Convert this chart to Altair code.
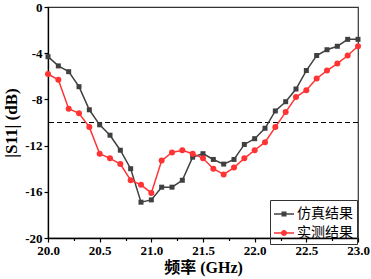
import altair as alt
import pandas as pd

# ---- data ----
freq = [20.0, 20.1, 20.2, 20.3, 20.4, 20.5, 20.6, 20.7, 20.8, 20.9,
        21.0, 21.1, 21.2, 21.3, 21.4, 21.5, 21.6, 21.7, 21.8, 21.9,
        22.0, 22.1, 22.2, 22.3, 22.4, 22.5, 22.6, 22.7, 22.8, 22.9, 23.0]
sim = [-4.3, -5.1, -5.6, -6.9, -8.9, -10.2, -11.1, -12.4, -14.0, -16.9,
       -16.7, -15.6, -15.6, -15.0, -13.0, -12.7, -13.2, -13.6, -13.2, -11.9,
       -11.4, -10.5, -9.0, -8.2, -7.1, -5.5, -4.2, -3.7, -3.4, -2.8, -2.8]
meas = [-5.8, -6.3, -8.8, -9.2, -10.4, -12.7, -13.1, -13.6, -15.0, -15.4,
        -16.1, -13.3, -12.6, -12.4, -12.7, -13.1, -14.0, -14.5, -13.9, -13.1,
        -12.4, -11.7, -10.4, -9.1, -7.8, -7.2, -6.2, -5.5, -4.9, -4.2, -3.4]
series_names = ["仿真结果", "实测结果"]
series_colors = ["#404040", "#ff3333"]
threshold = [-10]
x_ticks = [20.0, 20.25, 20.5, 20.75, 21.0, 21.25, 21.5, 21.75, 22.0, 22.25,
           22.5, 22.75, 23.0]
y_ticks = [-20, -18, -16, -14, -12, -10, -8, -6, -4, -2, 0]

# legend symbols: short line with marker
sq_path = ("M-1,-0.08L1,-0.08L1,0.08L-1,0.08Z "
           "M-0.25,-0.25L0.25,-0.25L0.25,0.25L-0.25,0.25Z")
circ_path = ("M-1,-0.08L1,-0.08L1,0.08L-1,0.08Z "
             "M0.3,0A0.3,0.3 0 1,1 -0.3,0A0.3,0.3 0 1,1 0.3,0Z")

df = pd.DataFrame({
    "freq": freq + freq,
    "s11": sim + meas,
    "series": [series_names[0]] * len(freq) + [series_names[1]] * len(freq),
})
thr_df = pd.DataFrame({"y": threshold})

is_sim = alt.datum.series == series_names[0]

x_enc = alt.X(
    "freq:Q",
    scale=alt.Scale(domain=[20, 23], nice=False, zero=False),
    axis=alt.Axis(
        values=x_ticks,
        labelExpr="datum.value % 0.5 === 0 ? format(datum.value, '.1f') : ''",
        tickSize={"condition": {"test": "datum.value % 0.5 === 0", "value": 4}, "value": 2.5},
        title="频率 (GHz)",
        titlePadding=2,
    ),
)
y_enc = alt.Y(
    "s11:Q",
    scale=alt.Scale(domain=[-20, 0], nice=False, zero=False),
    axis=alt.Axis(
        values=y_ticks,
        labelExpr="datum.value % 4 === 0 ? ('' + datum.value) : ''",
        tickSize={"condition": {"test": "datum.value % 4 === 0", "value": 4}, "value": 2.5},
        title="|S11| (dB)",
        titleFontSize=17,
        titlePadding=4,
    ),
)

rule = alt.Chart(thr_df).mark_rule(color="black", strokeWidth=1, strokeDash=[5, 3]).encode(
    y=alt.Y("y:Q", scale=alt.Scale(domain=[-20, 0], nice=False, zero=False))
)

lines = alt.Chart(df).mark_line(strokeWidth=1.5).encode(
    x=x_enc,
    y=y_enc,
    detail="series:N",
    color=alt.condition(is_sim, alt.value(series_colors[0]), alt.value(series_colors[1])),
)

points = alt.Chart(df).mark_point(filled=True, opacity=1).encode(
    x=x_enc,
    y=y_enc,
    shape=alt.condition(is_sim, alt.value("square"), alt.value("circle")),
    size=alt.condition(is_sim, alt.value(25), alt.value(36)),
    color=alt.condition(is_sim, alt.value(series_colors[0]), alt.value(series_colors[1])),
)

legend_layer = alt.Chart(df).transform_filter("false").mark_point(filled=True, opacity=1).encode(
    x=x_enc,
    y=y_enc,
    color=alt.Color("series:N", scale=alt.Scale(domain=series_names, range=series_colors), title=None),
    shape=alt.Shape("series:N", scale=alt.Scale(domain=series_names, range=[sq_path, circ_path]), title=None),
)

chart = (
    alt.layer(rule, lines, points, legend_layer)
    .properties(
        width=310,
        height=231,
        padding={"left": 48, "top": 7, "right": 13, "bottom": 41},
        autosize=alt.AutoSizeParams(type="none"),
    )
    .configure_view(stroke="#333333", strokeWidth=1.2)
    .configure_axis(
        grid=False,
        labelFont="Liberation Serif",
        labelFontSize=13,
        labelFontWeight="bold",
        labelColor="black",
        labelPadding=2,
        labelFlush=False,
        titleFont="Liberation Serif, Noto Sans CJK SC",
        titleFontSize=16,
        titleFontWeight="bold",
        titleColor="black",
        domainColor="black",
        domainWidth=1.3,
        tickColor="black",
        tickWidth=1.2,
    )
    .configure_legend(
        orient="none",
        legendX=222,
        legendY=193,
        strokeColor="#333333",
        padding=4,
        labelFont="Noto Sans CJK SC",
        labelFontSize=14,
        labelColor="black",
        labelOffset=3,
        symbolSize=400,
        symbolStrokeWidth=0,
        rowPadding=2,
    )
)

chart.save("out.html", embed_options={"renderer": "svg", "actions": False})
